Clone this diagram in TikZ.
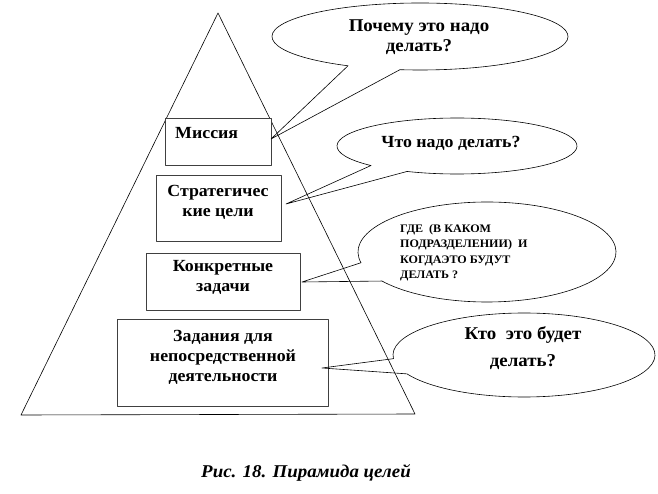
\documentclass[tikz,border=0pt]{standalone}
\usepackage{fontspec}
\setmainfont{Liberation Serif}[BoldFeatures={FakeStretch=1.05},BoldItalicFeatures={FakeStretch=1.05}]
\usetikzlibrary{calc}
\begin{document}
\begin{tikzpicture}[x=1pt,y=1pt,yscale=-1,line join=round,
  box/.style={draw=black!75,line width=0.9pt,fill=white,inner sep=0pt,anchor=north west},
  bubble/.style={draw=black,line width=0.6pt},
  tri/.style={draw=black,line width=0.6pt},
  big/.style={font=\fontsize{17}{20}\selectfont\bfseries,align=center,inner sep=0pt},
  bigger/.style={font=\fontsize{18}{20}\selectfont\bfseries,align=center,inner sep=0pt},
  small/.style={font=\fontsize{11.5}{15.5}\selectfont\bfseries,align=left,inner sep=0pt,anchor=west},
  capstyle/.style={font=\fontsize{18}{20}\selectfont\bfseries\itshape,inner sep=0pt}]
\useasboundingbox (0,0) rectangle (658,494);
% pyramid
\coordinate (apex) at (218,13);
\coordinate (bl) at (21,415);
\coordinate (br) at (415,414);
\draw[tri] (apex) -- (br) -- (bl) -- cycle;
% boxes
\node[box,minimum width=106pt,minimum height=47pt] (b1) at (165,118) {};
\node[box,minimum width=125pt,minimum height=66pt] (b2) at (156,175) {};
\node[box,minimum width=154pt,minimum height=57pt] (b3) at (146,253) {};
\node[box,minimum width=211pt,minimum height=87pt] (b4) at (117,319) {};
\node[big,anchor=west] (l1) at (175,133) {Миссия};
\node[big] (l2) at (218,202) {Стратегичес\\кие цели};
\node[big] (l3) at (223,277) {Конкретные\\задачи};
\node[big] (l4) at (223,357) {Задания для\\непосредственной\\деятельности};
% callout tips
\coordinate (t1) at (271,139);
\coordinate (t2) at (286,204);
\coordinate (t3) at (302,282);
\coordinate (t4) at (322,368);
% callout centres
\coordinate (c1) at (420,36.5);
\coordinate (c2) at (457,146);
\coordinate (c3) at (487,252);
\coordinate (c4) at (524,355);
\draw[bubble] ($(c1)+(119.1:148 and 33.5)$) arc[start angle=119.1,end angle=457.8,x radius=148,y radius=33.5] -- (t1) -- cycle;
\draw[bubble] ($(c2)+(135.8:120 and 28)$) arc[start angle=135.8,end angle=474.6,x radius=120,y radius=28] -- (t2) -- cycle;
\draw[bubble] ($(c3)+(167.6:129 and 50)$) arc[start angle=167.6,end angle=504.5,x radius=129,y radius=50] -- (t3) -- cycle;
\draw[bubble] ($(c4)+(175:131 and 42)$) arc[start angle=175,end angle=513.3,x radius=131,y radius=42] -- (t4) -- cycle;
% callout texts
\node[bigger] (q1) at (419,37) {Почему это надо\\делать?};
\node[big] (q2) at (451,143) {Что надо делать?};
\node[small] (q3) at (400,252.5) {ГДЕ~~(В КАКОМ\\ПОДРАЗДЕЛЕНИИ)~~И\\КОГДАЭТО БУДУТ\\ДЕЛАТЬ ?};
\node[bigger,font=\fontsize{18}{27}\selectfont\bfseries] (q4) at (523,348.5) {Кто~~это будет\\делать?};
% caption
\node[capstyle] (capt) at (306,473) {Рис. 18. Пирамида целей};
\end{tikzpicture}
\end{document}
